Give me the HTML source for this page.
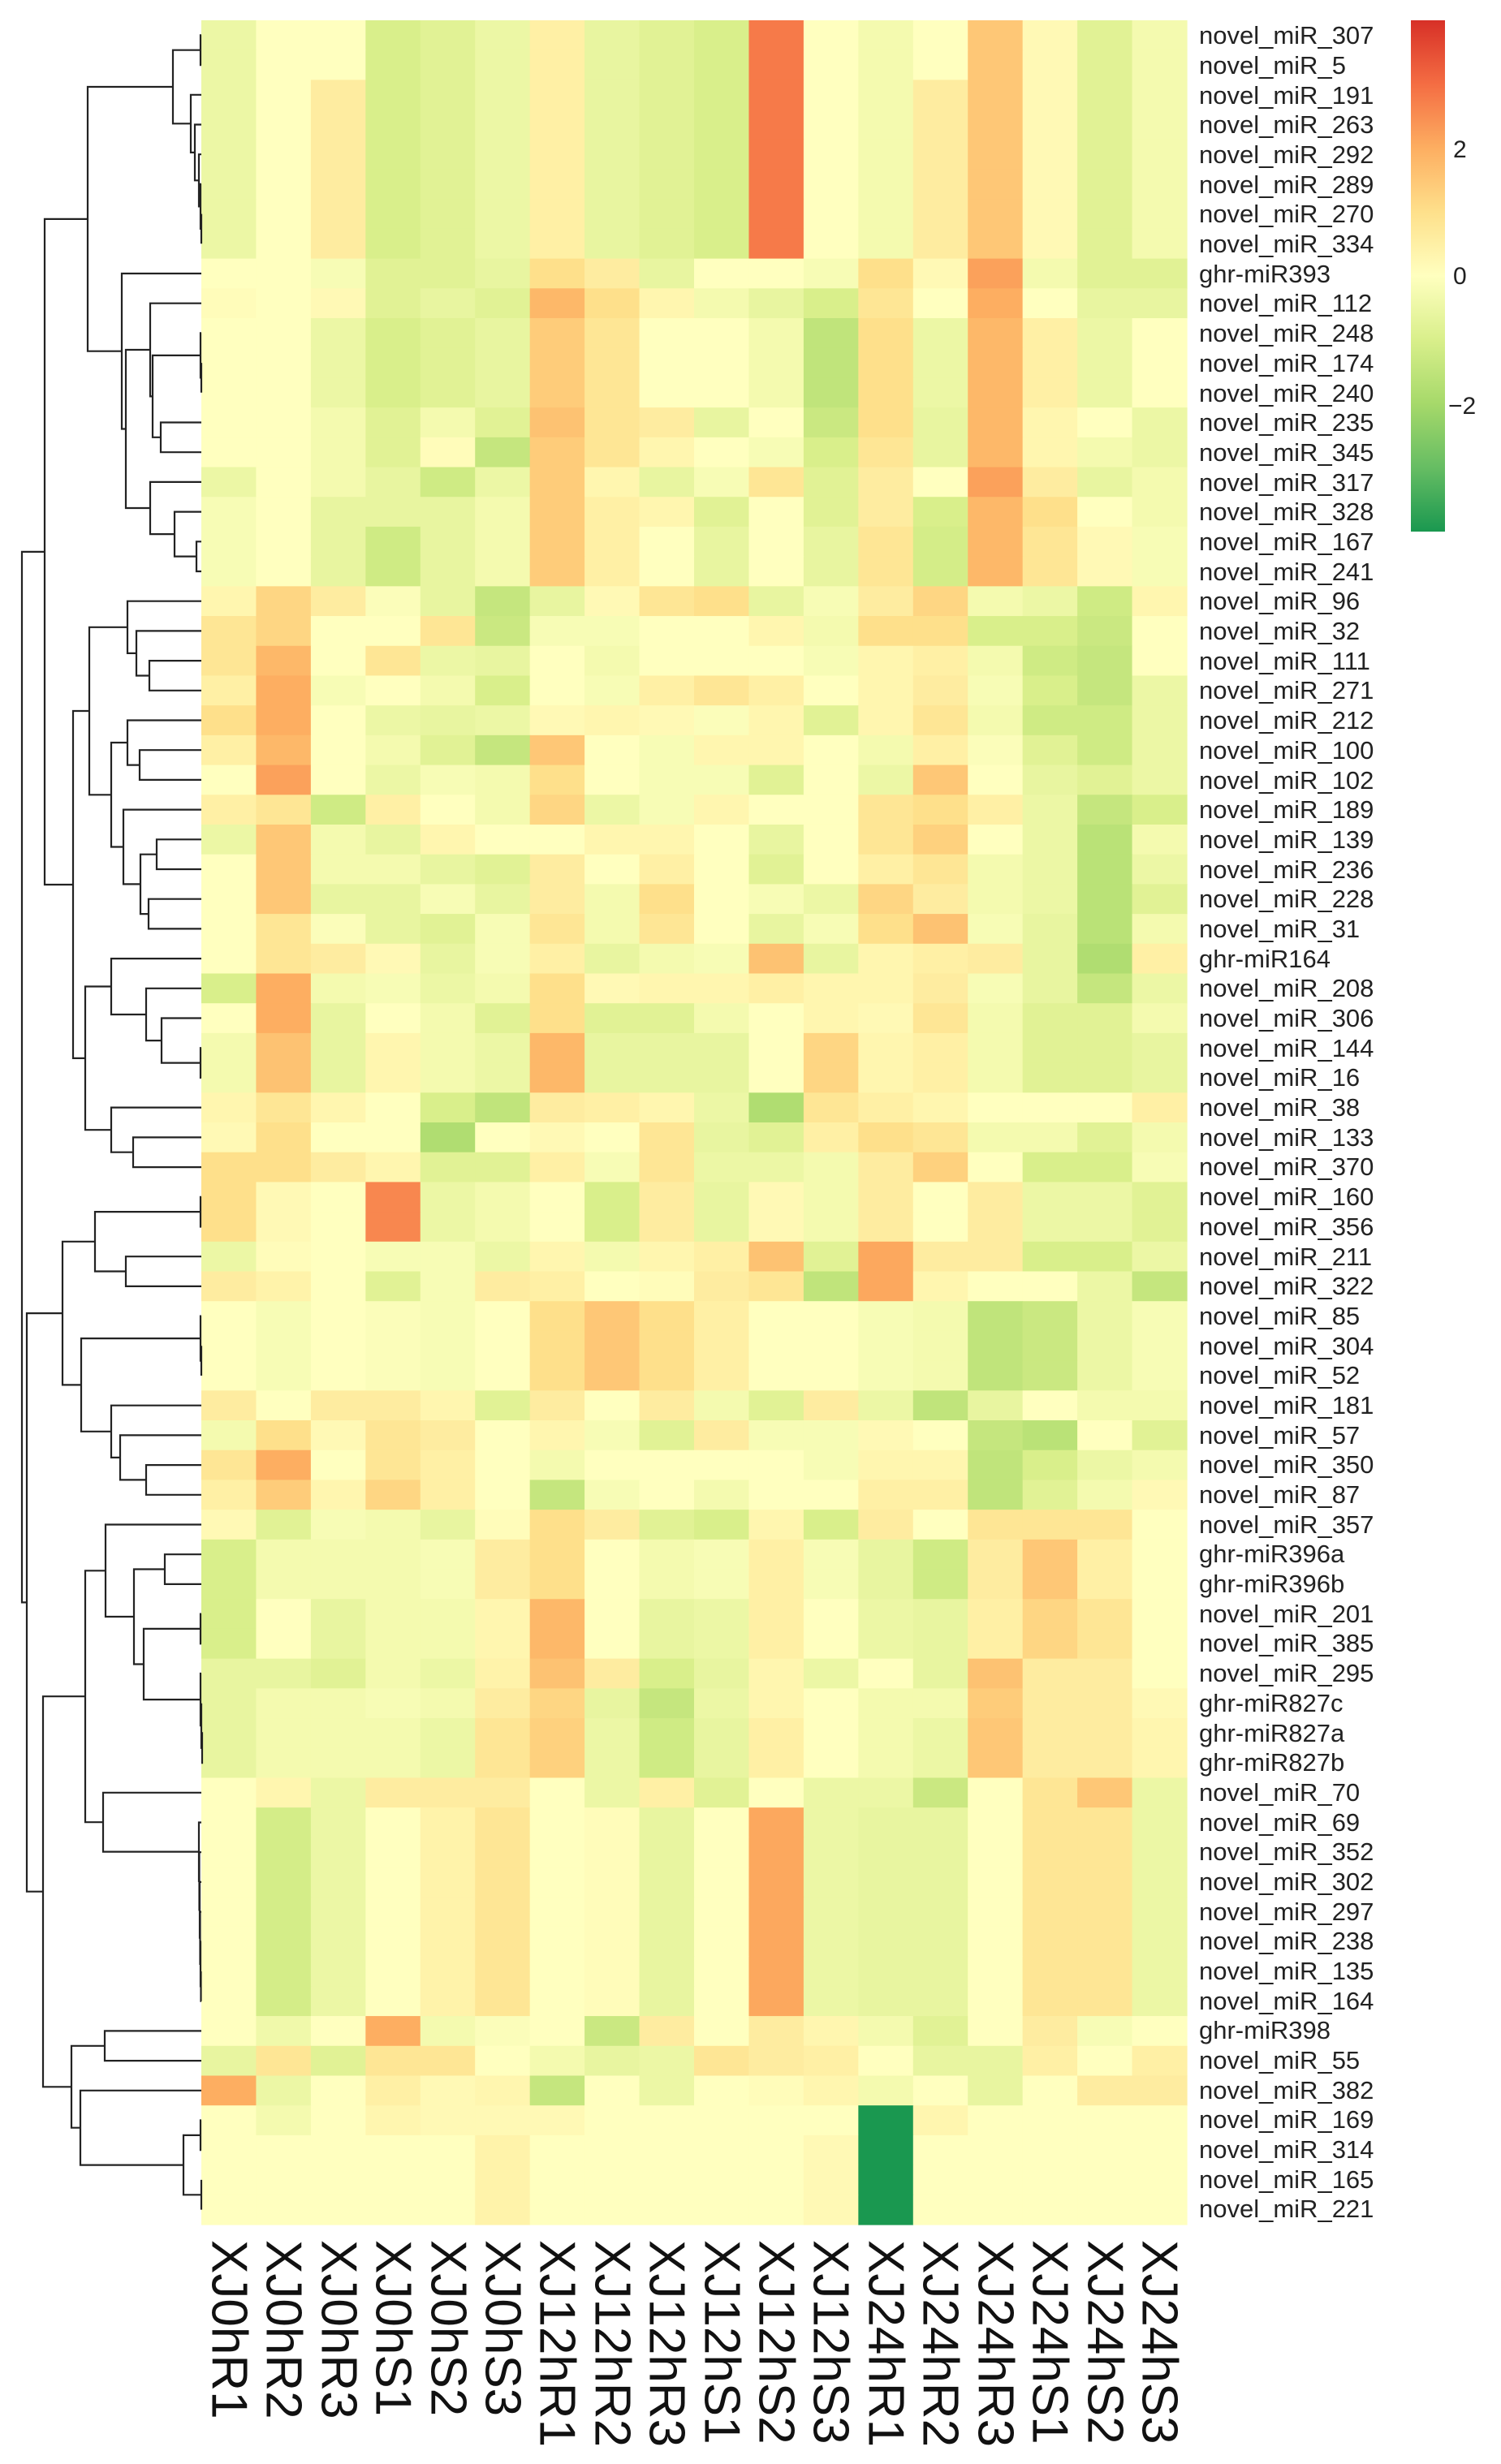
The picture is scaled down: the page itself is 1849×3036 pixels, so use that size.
<!DOCTYPE html>
<html><head><meta charset="utf-8"><style>
html,body{margin:0;padding:0;background:#fff;}
svg{display:block;}
.rl{font-family:"Liberation Sans",sans-serif;font-size:31px;fill:#222;}
.cl{font-family:"Liberation Sans",sans-serif;font-size:62px;fill:#111;}
.lg{font-family:"Liberation Sans",sans-serif;font-size:30px;fill:#222;}
</style></head><body>
<svg id="s" width="1849" height="3036" xmlns="http://www.w3.org/2000/svg">
<defs><linearGradient id="cb" x1="0" y1="0" x2="0" y2="1">
<stop offset="0" stop-color="#d73027"/><stop offset="0.125" stop-color="#f46d43"/><stop offset="0.25" stop-color="#fdae61"/><stop offset="0.375" stop-color="#fee08b"/><stop offset="0.5" stop-color="#ffffbf"/><stop offset="0.625" stop-color="#d9ef8b"/><stop offset="0.75" stop-color="#a6d96a"/><stop offset="0.875" stop-color="#66bd63"/><stop offset="1" stop-color="#1a9850"/></linearGradient></defs>
<g id="cells"></g>
<g id="dend" stroke="#222" stroke-width="2.2" fill="none"></g>
<rect x="1738" y="25" width="42" height="630" fill="url(#cb)"/>
<text class="lg" x="1790" y="194">2</text>
<text class="lg" x="1790" y="350">0</text>
<text class="lg" x="1784" y="510">−2</text>
<g id="rows">
<text class="rl" x="1477" y="54">novel_miR_307</text>
<text class="rl" x="1477" y="91">novel_miR_5</text>
<text class="rl" x="1477" y="128">novel_miR_191</text>
<text class="rl" x="1477" y="164">novel_miR_263</text>
<text class="rl" x="1477" y="201">novel_miR_292</text>
<text class="rl" x="1477" y="238">novel_miR_289</text>
<text class="rl" x="1477" y="274">novel_miR_270</text>
<text class="rl" x="1477" y="311">novel_miR_334</text>
<text class="rl" x="1477" y="348">ghr-miR393</text>
<text class="rl" x="1477" y="384">novel_miR_112</text>
<text class="rl" x="1477" y="421">novel_miR_248</text>
<text class="rl" x="1477" y="458">novel_miR_174</text>
<text class="rl" x="1477" y="495">novel_miR_240</text>
<text class="rl" x="1477" y="531">novel_miR_235</text>
<text class="rl" x="1477" y="568">novel_miR_345</text>
<text class="rl" x="1477" y="605">novel_miR_317</text>
<text class="rl" x="1477" y="641">novel_miR_328</text>
<text class="rl" x="1477" y="678">novel_miR_167</text>
<text class="rl" x="1477" y="715">novel_miR_241</text>
<text class="rl" x="1477" y="751">novel_miR_96</text>
<text class="rl" x="1477" y="788">novel_miR_32</text>
<text class="rl" x="1477" y="825">novel_miR_111</text>
<text class="rl" x="1477" y="861">novel_miR_271</text>
<text class="rl" x="1477" y="898">novel_miR_212</text>
<text class="rl" x="1477" y="935">novel_miR_100</text>
<text class="rl" x="1477" y="972">novel_miR_102</text>
<text class="rl" x="1477" y="1008">novel_miR_189</text>
<text class="rl" x="1477" y="1045">novel_miR_139</text>
<text class="rl" x="1477" y="1082">novel_miR_236</text>
<text class="rl" x="1477" y="1118">novel_miR_228</text>
<text class="rl" x="1477" y="1155">novel_miR_31</text>
<text class="rl" x="1477" y="1192">ghr-miR164</text>
<text class="rl" x="1477" y="1228">novel_miR_208</text>
<text class="rl" x="1477" y="1265">novel_miR_306</text>
<text class="rl" x="1477" y="1302">novel_miR_144</text>
<text class="rl" x="1477" y="1338">novel_miR_16</text>
<text class="rl" x="1477" y="1375">novel_miR_38</text>
<text class="rl" x="1477" y="1412">novel_miR_133</text>
<text class="rl" x="1477" y="1448">novel_miR_370</text>
<text class="rl" x="1477" y="1485">novel_miR_160</text>
<text class="rl" x="1477" y="1522">novel_miR_356</text>
<text class="rl" x="1477" y="1559">novel_miR_211</text>
<text class="rl" x="1477" y="1595">novel_miR_322</text>
<text class="rl" x="1477" y="1632">novel_miR_85</text>
<text class="rl" x="1477" y="1669">novel_miR_304</text>
<text class="rl" x="1477" y="1705">novel_miR_52</text>
<text class="rl" x="1477" y="1742">novel_miR_181</text>
<text class="rl" x="1477" y="1779">novel_miR_57</text>
<text class="rl" x="1477" y="1815">novel_miR_350</text>
<text class="rl" x="1477" y="1852">novel_miR_87</text>
<text class="rl" x="1477" y="1889">novel_miR_357</text>
<text class="rl" x="1477" y="1925">ghr-miR396a</text>
<text class="rl" x="1477" y="1962">ghr-miR396b</text>
<text class="rl" x="1477" y="1999">novel_miR_201</text>
<text class="rl" x="1477" y="2035">novel_miR_385</text>
<text class="rl" x="1477" y="2072">novel_miR_295</text>
<text class="rl" x="1477" y="2109">ghr-miR827c</text>
<text class="rl" x="1477" y="2146">ghr-miR827a</text>
<text class="rl" x="1477" y="2182">ghr-miR827b</text>
<text class="rl" x="1477" y="2219">novel_miR_70</text>
<text class="rl" x="1477" y="2256">novel_miR_69</text>
<text class="rl" x="1477" y="2292">novel_miR_352</text>
<text class="rl" x="1477" y="2329">novel_miR_302</text>
<text class="rl" x="1477" y="2366">novel_miR_297</text>
<text class="rl" x="1477" y="2402">novel_miR_238</text>
<text class="rl" x="1477" y="2439">novel_miR_135</text>
<text class="rl" x="1477" y="2476">novel_miR_164</text>
<text class="rl" x="1477" y="2512">ghr-miR398</text>
<text class="rl" x="1477" y="2549">novel_miR_55</text>
<text class="rl" x="1477" y="2586">novel_miR_382</text>
<text class="rl" x="1477" y="2622">novel_miR_169</text>
<text class="rl" x="1477" y="2659">novel_miR_314</text>
<text class="rl" x="1477" y="2696">novel_miR_165</text>
<text class="rl" x="1477" y="2732">novel_miR_221</text>
</g>
<g id="cols">
<text class="cl" transform="translate(282,2760) rotate(90)" dominant-baseline="central">XJ0hR1</text>
<text class="cl" transform="translate(349,2760) rotate(90)" dominant-baseline="central">XJ0hR2</text>
<text class="cl" transform="translate(417,2760) rotate(90)" dominant-baseline="central">XJ0hR3</text>
<text class="cl" transform="translate(484,2760) rotate(90)" dominant-baseline="central">XJ0hS1</text>
<text class="cl" transform="translate(552,2760) rotate(90)" dominant-baseline="central">XJ0hS2</text>
<text class="cl" transform="translate(619,2760) rotate(90)" dominant-baseline="central">XJ0hS3</text>
<text class="cl" transform="translate(686,2760) rotate(90)" dominant-baseline="central">XJ12hR1</text>
<text class="cl" transform="translate(754,2760) rotate(90)" dominant-baseline="central">XJ12hR2</text>
<text class="cl" transform="translate(821,2760) rotate(90)" dominant-baseline="central">XJ12hR3</text>
<text class="cl" transform="translate(889,2760) rotate(90)" dominant-baseline="central">XJ12hS1</text>
<text class="cl" transform="translate(956,2760) rotate(90)" dominant-baseline="central">XJ12hS2</text>
<text class="cl" transform="translate(1023,2760) rotate(90)" dominant-baseline="central">XJ12hS3</text>
<text class="cl" transform="translate(1091,2760) rotate(90)" dominant-baseline="central">XJ24hR1</text>
<text class="cl" transform="translate(1158,2760) rotate(90)" dominant-baseline="central">XJ24hR2</text>
<text class="cl" transform="translate(1226,2760) rotate(90)" dominant-baseline="central">XJ24hR3</text>
<text class="cl" transform="translate(1293,2760) rotate(90)" dominant-baseline="central">XJ24hS1</text>
<text class="cl" transform="translate(1361,2760) rotate(90)" dominant-baseline="central">XJ24hS2</text>
<text class="cl" transform="translate(1428,2760) rotate(90)" dominant-baseline="central">XJ24hS3</text>
</g>
</svg>
<script>
var X0=248,Y0=25,CW=1214/18,RH=2716/74;
var T=[-0.5,0,0.6,-1,-0.8,-0.5,0.5,-0.6,-0.8,-1,2.8,0,-0.3,0.6,1.5,0.2,-0.8,-0.3];
var T0=T.slice();T0[2]=0;T0[13]=0;
var R60=[0,-1.1,-0.5,0,0.4,0.8,0,0.1,-0.6,0,2.1,-0.5,-0.6,-0.6,0,0.8,0.8,-0.5];
var Z=[0,0,0,0,0,0.4,0,0,0,0,0,0.2,-4,0,0,0,0,0];
var D=[T0,T0,T,T,T,T,T,T,
[0,0,-0.2,-0.8,-0.8,-0.6,1,0.6,-0.6,0,0,-0.2,1,0.2,2.2,-0.3,-0.8,-0.8],
[0.1,0,0.2,-0.8,-0.6,-0.8,1.8,1,0.3,-0.3,-0.6,-1,0.8,0,2,0,-0.6,-0.6],
[0,0,-0.5,-1,-0.8,-0.6,1.4,0.8,0,0,-0.3,-1.5,1,-0.5,1.8,0.5,-0.5,0],
[0,0,-0.5,-1,-0.8,-0.6,1.4,0.8,0,0,-0.3,-1.5,1,-0.5,1.8,0.5,-0.5,0],
[0,0,-0.5,-1,-0.8,-0.6,1.4,0.8,0,0,-0.3,-1.5,1,-0.5,1.8,0.5,-0.5,0],
[0,0,-0.3,-0.8,-0.3,-0.8,1.6,0.8,0.6,-0.6,0,-1.3,1,-0.6,1.8,0.3,0,-0.5],
[0,0,-0.3,-0.8,0.1,-1.4,1.4,0.8,0.3,0,-0.2,-1,0.8,-0.6,1.8,0.3,-0.3,-0.5],
[-0.5,0,-0.3,-0.6,-1.2,-0.5,1.4,0.3,-0.6,-0.2,0.8,-0.8,0.6,0,2.2,0.6,-0.6,-0.3],
[-0.2,0,-0.6,-0.6,-0.6,-0.3,1.4,0.5,0.3,-0.8,0,-0.8,0.6,-1,1.8,1,0,-0.3],
[-0.2,0,-0.6,-1.2,-0.6,-0.3,1.4,0.5,0,-0.6,0,-0.6,0.8,-1.1,1.8,0.8,0.2,-0.2],
[-0.2,0,-0.6,-1.2,-0.6,-0.3,1.4,0.5,0,-0.6,0,-0.6,0.8,-1.1,1.8,0.8,0.2,-0.2],
[0.3,1.2,0.6,-0.1,-0.6,-1.4,-0.6,0.2,0.8,1,-0.6,-0.2,0.6,1.2,-0.3,-0.5,-1.2,0.3],
[0.8,1.2,0,0,0.8,-1.3,-0.2,-0.2,0,0,0.3,-0.3,1,1,-1,-1,-1.3,0],
[0.8,1.8,0,0.8,-0.5,-0.6,0,-0.3,0,0,0,-0.2,0.3,0.5,-0.3,-1.2,-1.4,0],
[0.5,2,-0.2,0,-0.3,-1,0,-0.2,0.5,0.8,0.5,0,0.3,0.6,-0.2,-1,-1.4,-0.5],
[1,2,0,-0.5,-0.6,-0.5,0.2,0.3,0.2,-0.1,0.3,-0.8,0.3,0.8,-0.3,-1.2,-1.2,-0.5],
[0.5,1.8,0,-0.3,-0.8,-1.4,1.5,0,-0.2,0.3,0.3,0,-0.3,0.5,-0.1,-0.8,-1.2,-0.5],
[0,2.2,0,-0.5,-0.2,-0.3,1,0,-0.2,-0.2,-0.8,0,-0.5,1.5,0,-0.6,-0.8,-0.5],
[0.5,0.8,-1.2,0.5,0,-0.3,1.2,-0.5,-0.2,0.3,0,0,0.8,1,0.5,-0.5,-1.4,-1],
[-0.5,1.5,-0.3,-0.6,0.3,0,0,0.3,0.3,0,-0.6,0,0.8,1.3,0,-0.5,-1.6,-0.3],
[0,1.5,-0.3,-0.3,-0.6,-0.8,0.6,0,0.5,0,-0.8,0,0.5,0.8,-0.3,-0.5,-1.6,-0.5],
[0,1.5,-0.6,-0.6,-0.2,-0.6,0.6,-0.3,1,0,-0.2,-0.5,1.2,0.6,-0.3,-0.5,-1.6,-0.8],
[0,0.8,-0.1,-0.6,-0.8,-0.2,0.8,-0.3,0.8,0,-0.6,-0.2,1,1.6,-0.2,-0.6,-1.6,-0.3],
[0,0.8,0.6,0.2,-0.6,-0.2,0.5,-0.6,-0.3,-0.2,1.6,-0.6,0.3,0.5,0.6,-0.6,-1.8,0.5],
[-1,2,-0.3,-0.2,-0.5,-0.3,1,0.2,0.3,0.3,0.5,0.3,0.3,0.6,-0.2,-0.6,-1.4,-0.5],
[0,2,-0.6,0,-0.3,-0.8,1,-0.8,-0.8,-0.3,0,0.3,0.2,0.8,-0.3,-0.8,-0.8,-0.3],
[-0.3,1.6,-0.6,0.3,-0.3,-0.5,1.8,-0.6,-0.6,-0.6,0,1.2,0.3,0.5,-0.3,-0.8,-0.8,-0.6],
[-0.3,1.6,-0.6,0.3,-0.3,-0.5,1.8,-0.6,-0.6,-0.6,0,1.2,0.3,0.5,-0.3,-0.8,-0.8,-0.6],
[0.3,0.8,0.3,0,-1,-1.5,0.6,0.5,0.3,-0.5,-1.8,0.8,0.5,0.3,0,0,0,0.5],
[0.2,1,0,0,-1.8,0,0.2,0,0.8,-0.6,-0.8,0.5,1,0.8,-0.3,-0.3,-0.8,-0.3],
[1,1,0.6,0.3,-0.8,-0.8,0.5,-0.2,0.8,-0.5,-0.5,-0.3,0.6,1.3,0,-1,-1,-0.2],
[1,0.2,0,2.6,-0.5,-0.3,0,-1,0.6,-0.6,0.2,-0.3,0.6,0,0.6,-0.5,-0.5,-0.8],
[1,0.2,0,2.6,-0.5,-0.3,0,-1,0.6,-0.6,0.2,-0.3,0.6,0,0.6,-0.5,-0.5,-0.8],
[-0.5,0.1,0,-0.2,-0.2,-0.5,0.3,-0.3,0.3,0.5,1.6,-0.8,2.1,0.6,0.6,-1,-1,-0.5],
[0.6,0.4,0,-0.8,-0.2,0.6,0.5,0,0.1,0.6,0.8,-1.5,2.1,0.3,0,0,-0.5,-1.4],
[0,-0.2,0,-0.1,-0.2,0,1,1.5,1,0.5,0,0,-0.2,-0.3,-1.5,-1.3,-0.5,-0.2],
[0,-0.2,0,-0.1,-0.2,0,1,1.5,1,0.5,0,0,-0.2,-0.3,-1.5,-1.3,-0.5,-0.2],
[0,-0.2,0,-0.1,-0.2,0,1,1.5,1,0.5,0,0,-0.2,-0.3,-1.5,-1.3,-0.5,-0.2],
[0.6,0,0.6,0.6,0.3,-0.8,0.6,0,0.6,-0.3,-0.8,0.6,-0.5,-1.5,-0.6,0,-0.3,-0.3],
[-0.3,1,0.2,0.8,0.6,0,0.3,-0.2,-0.8,0.6,-0.2,-0.2,0.2,0,-1.4,-1.6,0,-0.8],
[0.8,2,0,0.8,0.5,0,-0.3,0,0,0,0,-0.2,0.3,0.3,-1.5,-1,-0.5,-0.3],
[0.5,1.4,0.3,1.2,0.5,0,-1.4,-0.2,0,-0.3,0,0,0.5,0.5,-1.5,-0.8,-0.3,0.2],
[0.2,-0.8,-0.2,-0.3,-0.6,0.1,1,0.6,-0.8,-1,0.3,-1,0.6,0,0.8,0.8,0.8,0],
[-1,-0.3,-0.3,-0.3,-0.2,0.6,1,0,-0.3,-0.2,0.5,-0.2,-0.6,-1.2,0.6,1.5,0.5,0],
[-1,-0.3,-0.3,-0.3,-0.2,0.6,1,0,-0.3,-0.2,0.5,-0.2,-0.6,-1.2,0.6,1.5,0.5,0],
[-1,0,-0.6,-0.3,-0.3,0.3,1.8,0,-0.6,-0.5,0.5,0,-0.5,-0.6,0.5,1.2,0.8,0],
[-1,0,-0.6,-0.3,-0.3,0.3,1.8,0,-0.6,-0.5,0.5,0,-0.5,-0.6,0.5,1.2,0.8,0],
[-0.6,-0.6,-0.8,-0.3,-0.5,0.4,1.6,0.6,-1,-0.6,0.3,-0.5,0,-0.6,1.6,0.6,0.6,0],
[-0.6,-0.3,-0.3,-0.2,-0.3,0.6,1.2,-0.6,-1.4,-0.5,0.3,0,-0.3,-0.3,1.4,0.6,0.6,0.2],
[-0.6,-0.3,-0.3,-0.3,-0.5,0.8,1.3,-0.5,-1.2,-0.6,0.5,0,-0.3,-0.5,1.5,0.6,0.6,0.3],
[-0.6,-0.3,-0.3,-0.3,-0.5,0.8,1.3,-0.5,-1.2,-0.6,0.5,0,-0.3,-0.5,1.5,0.6,0.6,0.3],
[0,0.3,-0.5,0.6,0.6,0.6,0,-0.5,0.5,-0.8,0,-0.5,-0.5,-1.3,0,0.8,1.5,-0.5],
R60,R60,R60,R60,R60,R60,R60,
[0,-0.4,0,2,-0.3,-0.1,0,-1.3,0.6,0,0.6,0.3,-0.3,-0.8,0,0.6,-0.2,0],
[-0.6,0.8,-0.8,0.8,0.8,0,-0.3,-0.6,-0.5,0.8,0.6,0.5,0,-0.6,-0.6,0.5,0,0.5],
[2,-0.5,0,0.5,0.2,0.3,-1.4,0,-0.5,0,0.1,0.3,-0.3,0,-0.6,0,0.6,0.6],
[0,-0.3,0,0.3,0.2,0.2,0.2,0,0,0,0,0,-4,0.3,0,0,0,0],
Z,Z,Z];
var S=[[26,152,80],[102,189,99],[166,217,106],[217,239,139],[255,255,191],[254,224,139],[253,174,97],[244,109,67],[215,48,39]];
function col(v){v=Math.max(-4,Math.min(4,v));var t=v+4,i=Math.min(7,Math.floor(t)),f=t-i,a=S[i],b=S[i+1];
return 'rgb('+[0,1,2].map(function(k){return Math.round(a[k]+(b[k]-a[k])*f)}).join(',')+')';}
var ns='http://www.w3.org/2000/svg',g=document.getElementById('cells'),h='';
for(var r=0;r<74;r++)for(var c=0;c<18;c++){
var x=X0+c*CW,y=Y0+r*RH;
h+='<rect x="'+x.toFixed(2)+'" y="'+y.toFixed(2)+'" width="'+(CW+0.6).toFixed(2)+'" height="'+(RH+0.6).toFixed(2)+'" fill="'+col(D[r][c])+'"/>';}
g.innerHTML=h;
function N(x,a,b){return {x:x,c:[a,b]};}
function chain(x,arr){if(arr.length==1)return arr[0];return N(x,arr[0],chain(x+0.5,arr.slice(1)));}
var A1=N(213,N(247,0,1),N(235,2,N(240,3,N(245,4,N(247,5,N(248,6,7))))));
var N9=N(185,9,N(188,N(247,10,N(248,11,12)),N(198,13,14)));
var N15=N(185,15,N(215,16,N(242,17,18)));
var A2=N(150,8,N(155,N9,N15));
var A=N(108,A1,A2);
var B1a=N(157,19,N(168,20,N(184,21,22)));
var B1b=N(137,N(157,23,N(172,24,25)),N(152,26,N(173,N(193,27,28),N(183,29,30))));
var B1=N(110,B1a,B1b);
var C=N(137,31,N(180,32,N(199,33,N(247,34,35))));
var Dd=N(137,36,N(164,37,38));
var B2=N(105,C,Dd);
var B=N(90,B1,B2);
var L=N(55,A,B);
var E1=N(117,N(247,39,40),N(155,41,42));
var E2=N(100,N(247,43,N(248,44,45)),N(137,46,N(148,47,N(180,48,49))));
var E=N(77,E1,E2);
var F1a=N(130,50,N(165,N(203,51,52),N(177,N(247,53,54),N(247,55,N(248,56,N(249,57,58))))));
var F1b=N(127,59,chain(245,[60,61,62,63,64,65,66]));
var F1=N(105,F1a,F1b);
var F2=N(88,N(129,67,68),N(99,69,N(226,N(247,70,71),N(248,72,73))));
var F=N(53,F1,F2);
var R=N(33,E,F);
var ROOT=N(27,L,R);
var d='';
function draw(n){if(typeof n=='number')return {x:X0,y:Y0+(n+0.5)*RH};
var a=draw(n.c[0]),b=draw(n.c[1]);
d+='M'+a.x+' '+a.y.toFixed(1)+'H'+n.x+'V'+b.y.toFixed(1)+'H'+b.x;
return {x:n.x,y:(a.y+b.y)/2};}
draw(ROOT);
var p=document.createElementNS(ns,'path');p.setAttribute('d',d);document.getElementById('dend').appendChild(p);
</script>
</body></html>
